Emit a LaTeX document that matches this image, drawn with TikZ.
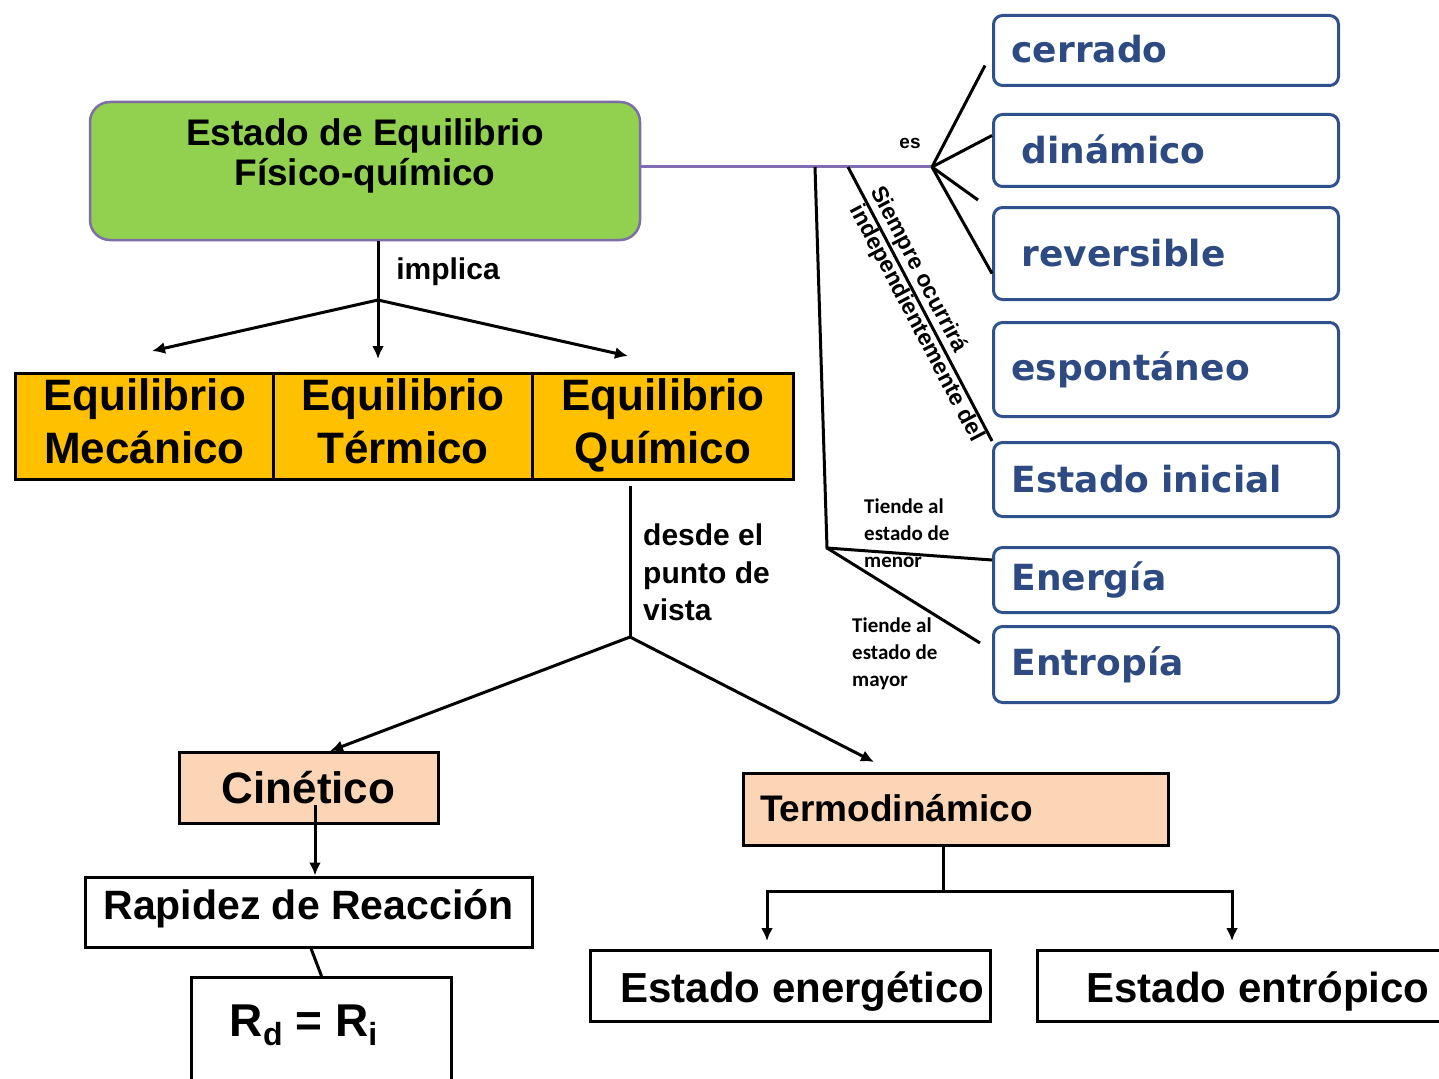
\documentclass[tikz,border=0pt]{standalone}
\usepackage{fontspec}
\usepackage{graphicx}
\setmainfont{Liberation Sans}
\newfontfamily\dejavu{DejaVu Sans}
\newfontfamily\carlito{Carlito}
\usetikzlibrary{arrows.meta,calc}
\definecolor{greenfill}{RGB}{146,208,80}
\definecolor{greenedge}{RGB}{125,110,165}
\definecolor{orangefill}{RGB}{255,192,0}
\definecolor{peach}{RGB}{251,213,181}
\definecolor{navy}{RGB}{47,82,143}
\definecolor{navytext}{RGB}{45,75,130}
\definecolor{purpline}{RGB}{128,108,180}
\begin{document}
\begin{tikzpicture}[x=1pt,y=1pt,
  conn/.style={line width=3pt, draw=black},
  arr/.style={conn, -{Latex[length=13pt,width=12pt]}},
  greenbox/.style={draw=greenedge, line width=2.5pt, fill=greenfill, rounded corners=20pt, minimum width=550pt, minimum height=138pt, font=\bfseries\fontsize{37}{40}\selectfont, inner sep=0pt},
  eqbox/.style={draw=black, line width=3pt, fill=orangefill, minimum width=258pt, minimum height=104pt, anchor=north west, align=center, font=\bfseries\fontsize{44}{53}\selectfont, inner sep=0pt},
  peachbox/.style={draw=black, line width=3pt, fill=peach, inner sep=0pt},
  whitebox/.style={draw=black, line width=3pt, fill=white, inner sep=0pt},
  rbox/.style={draw=navy, line width=3pt, rounded corners=9pt, fill=white, minimum width=345pt, anchor=north west, align=left, text=navytext, font=\dejavu\bfseries\fontsize{36}{40}\selectfont, inner ysep=0pt, inner xsep=18pt, text width=309pt},
  rboxb/.style={rbox, inner xsep=28pt, text width=289pt},
  lbl/.style={font=\bfseries\fontsize{30}{37.5}\selectfont, inner sep=0pt},
  tiende/.style={font=\carlito\bfseries\fontsize{21}{27}\selectfont, align=left, inner sep=0pt},
  slopelbl/.style={font=\bfseries\fontsize{23}{25}\selectfont, sloped}
]
\useasboundingbox (0,0) rectangle (1439,-1078);
\clip (0,0) rectangle (1439,-1078);
\fill[white] (0,0) rectangle (1439,-1078);

% main box
\node[greenbox] (green) at (365,-171) {\raisebox{13pt}[\height][\depth]{\begin{tabular}{@{}c@{}}Estado de Equilibrio\\F\'isico-qu\'imico\end{tabular}}};

% equilibria
\node[eqbox] (mec) at (14,-372) {Equilibrio\strut\\Mec\'anico\strut};
\node[eqbox, minimum width=259pt] (ter) at (272,-372) {Equilibrio\strut\\T\'ermico\strut};
\node[eqbox, minimum width=261pt] (qui) at (531,-372) {Equilibrio\strut\\Qu\'imico\strut};

% implica
\node[lbl] (impl) at (448,-272) {implica};
\coordinate (f1) at (378,-300);
\coordinate (tmec) at (152,-351);
\coordinate (tter) at (378,-359);
\coordinate (tqui) at (628,-356);
\draw[conn] (green.south -| f1) -- (f1);
\draw[arr] (f1) -- (tmec);
\draw[arr] (f1) -- (tter);
\draw[arr] (f1) -- (tqui);

% desde el punto de vista
\node[lbl, anchor=north west, align=left] (desde) at (643,-524) {desde el\\punto de\\vista};
\coordinate (qbot) at (630,-486);
\coordinate (f2) at (630,-637);
\coordinate (tcin) at (330,-751);
\coordinate (tterm) at (874,-762);
\draw[conn] (qbot) -- (f2);
\draw[arr] (f2) -- (tcin);
\draw[arr] (f2) -- (tterm);

% kinetic branch
\node[peachbox, minimum width=259pt, minimum height=71pt, font=\bfseries\fontsize{44}{48}\selectfont] (cin) at (308.5,-787.5) {Cin\'etico};
\node[whitebox, minimum width=447pt, minimum height=70pt, font=\bfseries\fontsize{41}{44}\selectfont] (rap) at (308.5,-912) {\raisebox{3pt}[\height][\depth]{Rapidez de Reacci\'on}};
\node[whitebox, minimum width=260pt, minimum height=112pt, anchor=north west, font=\bfseries\fontsize{46}{50}\selectfont] (rbx) at (190,-976) {\hspace*{-36pt}\raisebox{8pt}[\height][\depth]{R\raisebox{-9pt}{\fontsize{32}{34}\selectfont d} = R\raisebox{-9pt}{\fontsize{32}{34}\selectfont i}}};
\draw[arr] ([xshift=6.5pt,yshift=-17pt]cin.center) -- ([xshift=6.5pt]rap.north);
\draw[conn] ([xshift=2.5pt]rap.south) -- (rbx.north);

% thermodynamic branch
\node[peachbox, minimum width=425pt, minimum height=72pt, inner xsep=17pt, text width=391pt, align=left, font=\bfseries\fontsize{37}{40}\selectfont] (termo) at (955.5,-809) {\raisebox{3pt}{Termodin\'amico}};
\node[whitebox, minimum width=400pt, minimum height=71pt, font=\bfseries\fontsize{42}{46}\selectfont] (energ) at (790,-985.5) {\hspace*{25pt}\raisebox{-6pt}[\height][\depth]{Estado energ\'etico}};
\node[whitebox, minimum width=405pt, minimum height=71pt, font=\bfseries\fontsize{42}{46}\selectfont] (entr) at (1239.5,-985.5) {\hspace*{37pt}\raisebox{-6pt}[\height][\depth]{Estado entr\'opico}};
\coordinate (tj) at (943,-891);
\coordinate (tEn) at (767,-941);
\coordinate (tEt) at (1232,-941);
\draw[conn] (termo.south -| tj) -- (tj);
\draw[arr] (tj) -| (tEn);
\draw[arr] (tj) -| (tEt);

% right column
\node[rbox, minimum height=70pt] (cerr) at (992,-14) {\raisebox{3pt}{cerrado}};
\node[rboxb, minimum height=72pt] (din) at (992,-113) {\raisebox{2pt}{din\'amico}};
\node[rboxb, minimum height=92pt] (rev) at (992,-206) {reversible};
\node[rbox, minimum height=94pt] (esp) at (992,-321) {espont\'aneo};
\node[rbox, minimum height=74pt] (ini) at (992,-441) {\raisebox{2pt}{Estado inicial}};
\node[rbox, minimum height=65pt] (ene) at (992,-546) {Energ\'ia};
\node[rbox, minimum height=76pt] (ent) at (992,-625) {\raisebox{2pt}{Entrop\'ia}};

% "es" connectors
\coordinate (esf) at (932,-167);
\draw[purpline, line width=3pt] (green.east |- esf) -- (esf);
\node[font=\bfseries\fontsize{19}{20}\selectfont, inner sep=0pt] (es) at (910,-143) {es};
\coordinate (stub) at (978,-200);
\draw[conn] (esf) -- ([xshift=-7pt,yshift=-15pt]cerr.west);
\draw[conn] (esf) -- ([yshift=15pt]din.west);
\draw[conn] (esf) -- (stub);
\draw[conn] (esf) -- ([yshift=-20pt]rev.west);

% diagonal to Estado inicial
\coordinate (dstart) at (848,-167);
\draw[conn] (dstart) -- node[slopelbl, pos=0.40, above, inner sep=2pt] (siem) {Siempre ocurrir\'a} node[slopelbl, pos=0.55, below, inner sep=0pt] (indep) {independientemente del} (ini.north west);

% tendency lines
\coordinate (vstart) at (815,-167);
\coordinate (vbot) at (827,-548);
\coordinate (entEnd) at (980,-643);
\draw[conn] (vstart) -- (vbot) -- ([yshift=20pt]ene.west);
\draw[conn] (vbot) -- (entEnd);
\node[tiende, anchor=north west] (t1) at (864,-499) {Tiende al\\estado de\\menor};
\node[tiende, anchor=north west] (t2) at (852,-618) {Tiende al\\estado de\\mayor};
\end{tikzpicture}
\end{document}
